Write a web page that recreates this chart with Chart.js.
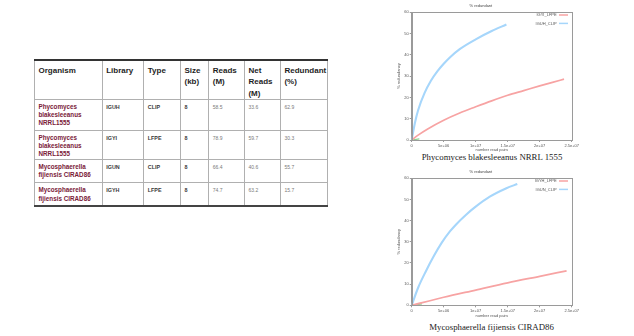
<!DOCTYPE html>
<html><head><meta charset="utf-8">
<script src="https://cdn.jsdelivr.net/npm/chart.js@4/dist/chart.umd.min.js"></script>
<style>
html,body{margin:0;padding:0;background:#fff;width:634px;height:336px;overflow:hidden;}
#tbl{position:absolute;left:34px;top:59px;border-collapse:collapse;table-layout:fixed;font-family:"Liberation Sans",Arial,sans-serif;}
#tbl td,#tbl th{border:1px solid #b0b0b0;vertical-align:top;text-align:left;padding:3px 0 0 3.5px;overflow:hidden;}
#tbl tr:first-child th{border-top:2px solid #333;}
#tbl tr:last-child td{border-bottom:2px solid #444;}
#tbl th{font-size:8px;line-height:11.3px;font-weight:bold;color:#1e1e1e;padding-top:4px;}
#tbl td{font-size:5px;line-height:8.3px;color:#7a7a7a;}
#tbl td.org{font-size:6.3px;font-weight:bold;color:#7a2038;}
#tbl td.lib{font-size:5.4px;font-weight:bold;color:#3a3a3a;}
canvas{position:absolute;}
.cap{position:absolute;font-family:"Liberation Serif","Times New Roman",serif;font-size:8.8px;color:#1a1a1a;white-space:nowrap;transform:translateX(-50%);}
</style></head><body>
<table id="tbl"></table>
<canvas id="c1" width="200" height="152" style="left:390px;top:0px"></canvas>
<div class="cap" id="cap1" style="left:492px;top:152px"></div>
<canvas id="c2" width="200" height="152" style="left:390px;top:166px"></canvas>
<div class="cap" id="cap2" style="left:491.5px;top:322px"></div>
<script>
// ---- table data ----
const tableHeaders = ['Organism','Library','Type','Size<br>(kb)','Reads<br>(M)','Net<br>Reads<br>(M)','Redundant<br>(%)'];
const organisms = ['Phycomyces<br>blakesleeanus<br>NRRL1555','Phycomyces<br>blakesleeanus<br>NRRL1555','Mycosphaerella<br>fijiensis CIRAD86','Mycosphaerella<br>fijiensis CIRAD86'];
const libraries = ['IGUH','IGYI','IGUN','IGYH'];
const types = ['CLIP','LFPE','CLIP','LFPE'];
const sizes = ['8','8','8','8'];
const reads = ['58.5','78.9','66.4','74.7'];
const netReads = ['33.6','59.7','40.6','63.2'];
const redundant = ['62.9','30.3','55.7','15.7'];

// ---- chart data ----
const xTickLabels = ['0','5e+06','1e+07','1.5e+07','2e+07','2.5e+07'];
const chartTitle = '% redundant';
const yAxisTitle = '% redundancy';
const xAxisTitle = 'number read pairs';
const captions = ['Phycomyces blakesleeanus NRRL 1555','Mycosphaerella fijiensis CIRAD86'];

const c1RedLabel = 'IGYI_LFPE';
const c1RedX = [0, 1e6, 2.5e6, 5e6, 7.5e6, 1e7, 1.25e7, 1.5e7, 1.75e7, 2e7, 2.2e7, 2.38e7];
const c1RedY = [0, 2.3, 5.2, 9.3, 12.7, 15.6, 18.4, 21, 23.2, 25.4, 27.1, 28.6];
const c1BlueLabel = 'IGUH_CLIP';
const c1BlueX = [0, 5e5, 1e6, 2e6, 3e6, 4e6, 5e6, 6e6, 7.5e6, 1e7, 1.25e7, 1.48e7];
const c1BlueY = [0, 8, 14, 22, 27.8, 32.2, 35.8, 38.9, 42.7, 47.3, 51.2, 54.3];
const c1GreenX = [0, 1.2e6];
const c1GreenY = [0, 0.5];

const c2RedLabel = 'IGYH_LFPE';
const c2RedX = [0, 5e6, 1e7, 1.5e7, 2e7, 2.42e7];
const c2RedY = [0, 3.8, 7.2, 10.6, 13.7, 16.3];
const c2BlueLabel = 'IGUN_CLIP';
const c2BlueX = [0, 1e6, 2.2e6, 3.5e6, 4.7e6, 6e6, 6.9e6, 8.5e6, 1e7, 1.22e7, 1.48e7, 1.65e7];
const c2BlueY = [0, 8.3, 16, 23.5, 29.6, 35, 38.1, 42.8, 46.6, 51.3, 55.3, 57.3];
const c2GreenX = [0, 1.6e6];
const c2GreenY = [0, 0.7];

// ---- build table ----
(function(){
  const colW = [67.7, 41.6, 36.7, 28.3, 35.7, 36, 47];
  const rowH = [39.3, 30.7, 29, 23.7, 23.3];
  const t = document.getElementById('tbl');
  let html = '<colgroup>' + colW.map(w => '<col style="width:' + w + 'px">').join('') + '</colgroup>';
  html += '<tr style="height:' + rowH[0] + 'px">' + tableHeaders.map(h => '<th>' + h + '</th>').join('') + '</tr>';
  for (let i = 0; i < organisms.length; i++) {
    html += '<tr style="height:' + rowH[i+1] + 'px"><td class="org">' + organisms[i] + '</td><td class="lib">' + libraries[i] +
      '</td><td class="lib">' + types[i] + '</td><td class="lib">' + sizes[i] + '</td><td>' + reads[i] + '</td><td>' +
      netReads[i] + '</td><td>' + redundant[i] + '</td></tr>';
  }
  t.innerHTML = html;
  document.getElementById('cap1').textContent = captions[0];
  document.getElementById('cap2').textContent = captions[1];
})();

const pts = (xs, ys) => xs.map((x, i) => ({x: x, y: ys[i]}));

const boxPlugin = {
  id: 'boxPlugin',
  afterDatasetsDraw(chart) {
    const a = chart.chartArea, ctx = chart.ctx;
    ctx.save();
    ctx.strokeStyle = '#9a9a9a';
    ctx.lineWidth = 1;
    ctx.strokeRect(Math.round(a.left) + 0.5, Math.round(a.top) + 0.5, Math.round(a.right - a.left), Math.round(a.bottom - a.top));
    // inline legend (gnuplot style: text then line sample)
    ctx.font = '4px "Liberation Sans"';
    ctx.textAlign = 'right';
    ctx.textBaseline = 'middle';
    let row = 0;
    chart.data.datasets.forEach(ds => {
      if (!ds.label) return;
      const y = a.top + 2.7 + row * 8.4;
      ctx.fillStyle = '#555';
      ctx.fillText(ds.label, a.right - 15, y);
      ctx.strokeStyle = ds.borderColor;
      ctx.lineWidth = 1.5;
      ctx.beginPath();
      ctx.moveTo(a.right - 12.7, y);
      ctx.lineTo(a.right - 3.7, y);
      ctx.stroke();
      row++;
    });
    ctx.restore();
  }
};

function makeChart(id, red, blue, green, xH) {
  Chart.defaults.font.family = '"Liberation Sans", Arial, sans-serif';
  new Chart(document.getElementById(id), {
    type: 'line',
    data: {
      datasets: [
        {label: red.label, data: red.data, borderColor: '#f7a3a3', borderWidth: 1.7, pointRadius: 0, cubicInterpolationMode: 'monotone', fill: false},
        {label: blue.label, data: blue.data, borderColor: '#a6d6fb', borderWidth: 2.1, pointRadius: 0, cubicInterpolationMode: 'monotone', fill: false},
        {label: '', data: green, borderColor: '#8fd08f', borderWidth: 1.2, pointRadius: 0, fill: false}
      ]
    },
    options: {
      responsive: false,
      animation: false,
      layout: {padding: {left: 0, right: 18.3, top: 0, bottom: 0}},
      plugins: {
        legend: {display: false},
        tooltip: {enabled: false},
        title: {display: true, text: chartTitle, color: '#444', font: {size: 4, weight: 'normal'}, padding: {top: 3, bottom: 4.5}}
      },
      scales: {
        x: {
          type: 'linear', min: 0, max: 2.5e7,
          afterFit(s) { s.height = xH; },
          grid: {display: true, drawOnChartArea: false, tickLength: 2, color: '#9a9a9a'},
          border: {color: '#9a9a9a'},
          ticks: {stepSize: 5e6, padding: 1, color: '#555', font: {size: 4}, maxRotation: 0,
                  callback: (v) => { const i = Math.round(v / 5e6); return xTickLabels[i]; }},
          title: {display: true, text: xAxisTitle, color: '#555', font: {size: 4}, padding: {top: 0, bottom: 0}}
        },
        y: {
          min: 0, max: 60,
          afterFit(s) { s.width = 21.7; },
          grid: {display: true, drawOnChartArea: false, tickLength: 2, color: '#9a9a9a'},
          border: {color: '#9a9a9a'},
          ticks: {stepSize: 10, padding: 1, color: '#555', font: {size: 4}},
          title: {display: true, text: yAxisTitle, color: '#555', font: {size: 4}, padding: {top: 6.6, bottom: 0}}
        }
      }
    },
    plugins: [boxPlugin]
  });
}

makeChart('c1', {label: c1RedLabel, data: pts(c1RedX, c1RedY)}, {label: c1BlueLabel, data: pts(c1BlueX, c1BlueY)}, pts(c1GreenX, c1GreenY), 12);
makeChart('c2', {label: c2RedLabel, data: pts(c2RedX, c2RedY)}, {label: c2BlueLabel, data: pts(c2BlueX, c2BlueY)}, pts(c2GreenX, c2GreenY), 12.7);
</script>
</body></html>
